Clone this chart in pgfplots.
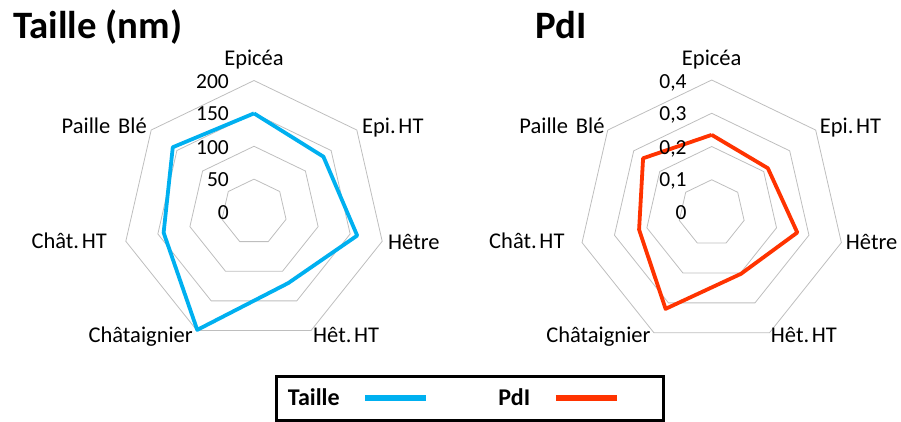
\documentclass[border=0pt]{standalone}
\usepackage{pgfplots}
\pgfplotsset{compat=1.18}
\usepackage{pgfplotstable}
\usepackage{fontspec}
\setmainfont{Carlito}
\definecolor{tblue}{RGB}{0,176,240}
\definecolor{pred}{RGB}{255,51,0}
\definecolor{ring}{RGB}{190,190,190}

% angle (deg), Taille (nm), PdI ; last row closes the polygon
\pgfplotstableread{
angle taille pdi
90 150 0.235
38.5714 135 0.216
-12.8571 161 0.264
-64.2857 120 0.203
-115.7143 199 0.320
-167.1429 141 0.224
-218.5714 158 0.264
-270 150 0.235
}\data

\pgfplotstableread{
angle a b c d
90 50 100 150 200
38.5714 50 100 150 200
-12.8571 50 100 150 200
-64.2857 50 100 150 200
-115.7143 50 100 150 200
-167.1429 50 100 150 200
-218.5714 50 100 150 200
-270 50 100 150 200
}\ringsL

\pgfplotstableread{
angle a b c d
90 0.1 0.2 0.3 0.4
38.5714 0.1 0.2 0.3 0.4
-12.8571 0.1 0.2 0.3 0.4
-64.2857 0.1 0.2 0.3 0.4
-115.7143 0.1 0.2 0.3 0.4
-167.1429 0.1 0.2 0.3 0.4
-218.5714 0.1 0.2 0.3 0.4
-270 0.1 0.2 0.3 0.4
}\ringsR

\begin{document}
\begin{tikzpicture}
\useasboundingbox (0pt,0pt) rectangle (901pt,-421pt);

\begin{axis}[
  hide axis, clip=false,
  x=0.6575pt, y=0.6575pt,
  xmin=-200, xmax=200, ymin=-200, ymax=200,
  anchor=origin, at={(254pt,-212pt)},
  every axis plot/.append style={data cs=polar},
  legend columns=2, legend plot pos=right,
  legend style={at={(axis description cs:0.5817,-0.1179)}, anchor=north west,
    draw=black, line width=3pt, inner xsep=11pt, inner ysep=13pt,
    font=\fontsize{24}{28}\selectfont\bfseries,
    nodes={inner sep=0pt},
    /tikz/every odd column/.append style={column sep=23pt},
    /tikz/every even column/.append style={column sep=36pt}},
  legend image code/.code={\draw[#1,line width=5.5pt] (0pt,0pt) -- (61pt,0pt); \path[draw=none,fill=none] (0pt,0pt) -- (97pt,0pt);},
]
\pgfplotsinvokeforeach{a,b,c,d}{
  \addplot[ring, line width=0.8pt, forget plot] table[x=angle,y=#1]{\ringsL};
}
\addplot[tblue, line width=3.8pt, line join=round] table[x=angle,y=taille]{\data};
\addlegendentry{Taille}
\addlegendimage{pred, line width=3.8pt}
\addlegendentry{PdI}
\end{axis}

\begin{axis}[
  hide axis, clip=false,
  x=332.5pt, y=332.5pt,
  xmin=-0.4, xmax=0.4, ymin=-0.4, ymax=0.4,
  anchor=origin, at={(711.7pt,-213pt)},
  every axis plot/.append style={data cs=polar},
]
\pgfplotsinvokeforeach{a,b,c,d}{
  \addplot[ring, line width=0.8pt, forget plot] table[x=angle,y=#1]{\ringsR};
}
\addplot[pred, line width=3.8pt, line join=round] table[x=angle,y=pdi]{\data};
\end{axis}

% titles
\node[anchor=base west, inner sep=0pt, font=\fontsize{38.8}{46}\selectfont\bfseries] at (13pt,-38.3pt) {Taille (nm)};
\node[anchor=base west, inner sep=0pt, font=\fontsize{38.8}{46}\selectfont\bfseries] at (535pt,-38.3pt) {PdI};

% category labels
\begin{scope}[every node/.style={inner sep=0pt, font=\fontsize{22.5}{27}\selectfont}]
\node[anchor=base] at (254pt,-65pt) {Epicéa};
\node[anchor=base west] at (362pt,-133.3pt) {Epi.\hspace{0.12em}HT};
\node[anchor=base west] at (388pt,-249.3pt) {Hêtre};
\node[anchor=base west] at (313pt,-342.7pt) {Hêt.\hspace{0.12em}HT};
\node[anchor=base east] at (193pt,-342.7pt) {Châtaignier};
\node[anchor=base east] at (107pt,-248.3pt) {Chât.\hspace{0.12em}HT};
\node[anchor=base east] at (147pt,-133.3pt) {Paille\hspace{0.35em}Blé};

\node[anchor=base] at (711.7pt,-65pt) {Epicéa};
\node[anchor=base west] at (819.7pt,-133.3pt) {Epi.\hspace{0.12em}HT};
\node[anchor=base west] at (845.7pt,-249.3pt) {Hêtre};
\node[anchor=base west] at (770.7pt,-342.7pt) {Hêt.\hspace{0.12em}HT};
\node[anchor=base east] at (650.7pt,-342.7pt) {Châtaignier};
\node[anchor=base east] at (564.7pt,-248.3pt) {Chât.\hspace{0.12em}HT};
\node[anchor=base east] at (604.7pt,-133.3pt) {Paille\hspace{0.35em}Blé};
\end{scope}

% radial tick labels
\begin{scope}[every node/.style={inner sep=0pt, font=\fontsize{21.5}{26}\selectfont, anchor=base east}]
\node at (229pt,-88.3pt) {200};
\node at (229pt,-120.7pt) {150};
\node at (229pt,-154pt) {100};
\node at (229pt,-186.7pt) {50};
\node at (229pt,-219pt) {0};
\node at (686.7pt,-88.3pt) {0,4};
\node at (686.7pt,-120.7pt) {0,3};
\node at (686.7pt,-154pt) {0,2};
\node at (686.7pt,-186.7pt) {0,1};
\node at (686.7pt,-219pt) {0};
\end{scope}
\end{tikzpicture}
\end{document}
